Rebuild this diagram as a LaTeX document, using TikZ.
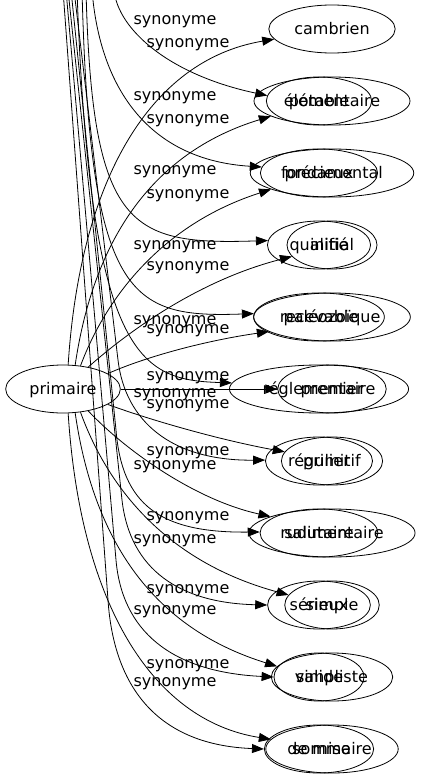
\documentclass[tikz,border=0pt]{standalone}
\usepackage{fontspec}
\setmainfont{DejaVu Sans}
\usetikzlibrary{arrows.meta,shapes.geometric}

\tikzset{
    word/.style={draw, ellipse, minimum width=90pt, minimum height=48pt, inner xsep=7pt, inner ysep=2pt,
                 text height=11.5pt, text depth=0pt},
    syn/.style={inner sep=0pt},
    link/.style={-{Triangle[length=12pt,width=9pt]}},
}

\begin{document}
\begin{tikzpicture}[x=1pt, y=-1pt, font=\fontsize{16}{19}\selectfont, line width=0.8pt]
    \useasboundingbox (0,0) rectangle (423,779);
    \clip (0,0) rectangle (423,779);

    \node[word] (primaire)      at (63,389)  {primaire};

    \node[word] (cambrien)      at (332,29)  {cambrien};
    \node[word] (elementaire)   at (332,101) {élémentaire};
    \node[word] (fondamental)   at (332,173) {fondamental};
    \node[word] (initial)       at (332,245) {initial};
    \node[word] (paleozoique)   at (332,317) {paléozoïque};
    \node[word] (premier)       at (332,389) {premier};
    \node[word] (primitif)      at (332,461) {primitif};
    \node[word] (rudimentaire)  at (332,533) {rudimentaire};
    \node[word] (simple)        at (332,605) {simple};
    \node[word] (simpliste)     at (332,677) {simpliste};
    \node[word] (sommaire)      at (332,749) {sommaire};

    \node[word] (potable)       at (319,101) {potable};
    \node[word] (precieux)      at (319,173) {précieux};
    \node[word] (qualifie)      at (319,245) {qualifié};
    \node[word] (recevable)     at (319,317) {recevable};
    \node[word] (reglementaire) at (319,389) {réglementaire};
    \node[word] (regulier)      at (319,461) {régulier};
    \node[word] (salutaire)     at (319,533) {salutaire};
    \node[word] (serieux)       at (319,605) {sérieux};
    \node[word] (valide)        at (319,677) {valide};
    \node[word] (demise)        at (319,749) {de mise};

    \draw[link] (primaire.78)  .. controls (80,180) and (150,60)   .. (cambrien.190);
    \draw[link] (primaire.63)  .. controls (95,230) and (160,150)  .. (elementaire.194);
    \draw[link] (primaire.53)  .. controls (105,300) and (160,225) .. (fondamental.195);
    \draw[link] (primaire.41)  .. controls (130,330) and (200,280) .. (initial.196);
    \draw[link] (primaire.19)  .. controls (150,355) and (210,340) .. (paleozoique.193);
    \draw[link] (primaire)     -- (premier);
    \draw[link] (primaire.341) .. controls (150,420) and (220,440) .. (primitif.169);
    \draw[link] (primaire.319) .. controls (125,450) and (195,500) .. (rudimentaire.165);
    \draw[link] (primaire.307) .. controls (105,480) and (160,560) .. (simple.167);
    \draw[link] (primaire.297) .. controls (95,550) and (160,630)  .. (simpliste.169);
    \draw[link] (primaire.282) .. controls (80,600) and (150,720)  .. (sommaire.171);

    \coordinate (tpotable)       at (114,-10);
    \coordinate (tprecieux)      at (92,-10);
    \coordinate (tqualifie)      at (86,-10);
    \coordinate (trecevable)     at (82,-10);
    \coordinate (treglementaire) at (77,-10);
    \coordinate (tregulier)      at (74,-10);
    \coordinate (tsalutaire)     at (71,-10);
    \coordinate (tserieux)       at (68,-10);
    \coordinate (tvalide)        at (66,-10);
    \coordinate (tdemise)        at (63,-10);

    \draw[link] (tpotable)       .. controls (118,30) and (170,75)   .. (potable.174);
    \draw[link] (tprecieux)      .. controls (100,90) and (150,160)  .. (precieux.174);
    \draw[link] (tqualifie)      .. controls (92,230) and (130,245)  .. (qualifie.175);
    \draw[link] (trecevable)     .. controls (90,300) and (130,318)  .. (recevable.177);
    \draw[link] (treglementaire) .. controls (90,360) and (140,380)  .. (reglementaire.176);
    \draw[link] (tregulier)  -- (118,360) .. controls (125,420) and (170,461) .. (regulier.179);
    \draw[link] (tsalutaire) -- (116,430) .. controls (122,505) and (160,533) .. (salutaire.179);
    \draw[link] (tserieux)   -- (122,500) .. controls (130,570) and (180,603) .. (serieux.180);
    \draw[link] (tvalide)    -- (116,560) .. controls (122,630) and (170,672) .. (valide.180);
    \draw[link] (tdemise)    -- (108,600) .. controls (114,690) and (160,745) .. (demise.180);

    \node[syn] (lcambrien)      at (188,45)  {synonyme};
    \node[syn] (lelementaire)   at (188,121) {synonyme};
    \node[syn] (lfondamental)   at (188,196) {synonyme};
    \node[syn] (linitial)       at (188,268) {synonyme};
    \node[syn] (lpaleozoique)   at (188,331) {synonyme};
    \node[syn] (lpremier)       at (188,378) {synonyme};
    \node[syn] (lprimitif)      at (188,406) {synonyme};
    \node[syn] (lrudimentaire)  at (188,453) {synonyme};
    \node[syn] (lsimple)        at (188,518) {synonyme};
    \node[syn] (lsimpliste)     at (188,591) {synonyme};
    \node[syn] (lsommaire)      at (188,666) {synonyme};

    \node[syn] (lpotable)       at (175,22)  {synonyme};
    \node[syn] (lprecieux)      at (175,98)  {synonyme};
    \node[syn] (lqualifie)      at (175,172) {synonyme};
    \node[syn] (lrecevable)     at (175,247) {synonyme};
    \node[syn] (lreglementaire) at (175,322) {synonyme};
    \node[syn] (lregulier)      at (175,395) {synonyme};
    \node[syn] (lsalutaire)     at (175,467) {synonyme};
    \node[syn] (lserieux)       at (175,541) {synonyme};
    \node[syn] (lvalide)        at (175,612) {synonyme};
    \node[syn] (ldemise)        at (175,684) {synonyme};
\end{tikzpicture}
\end{document}
